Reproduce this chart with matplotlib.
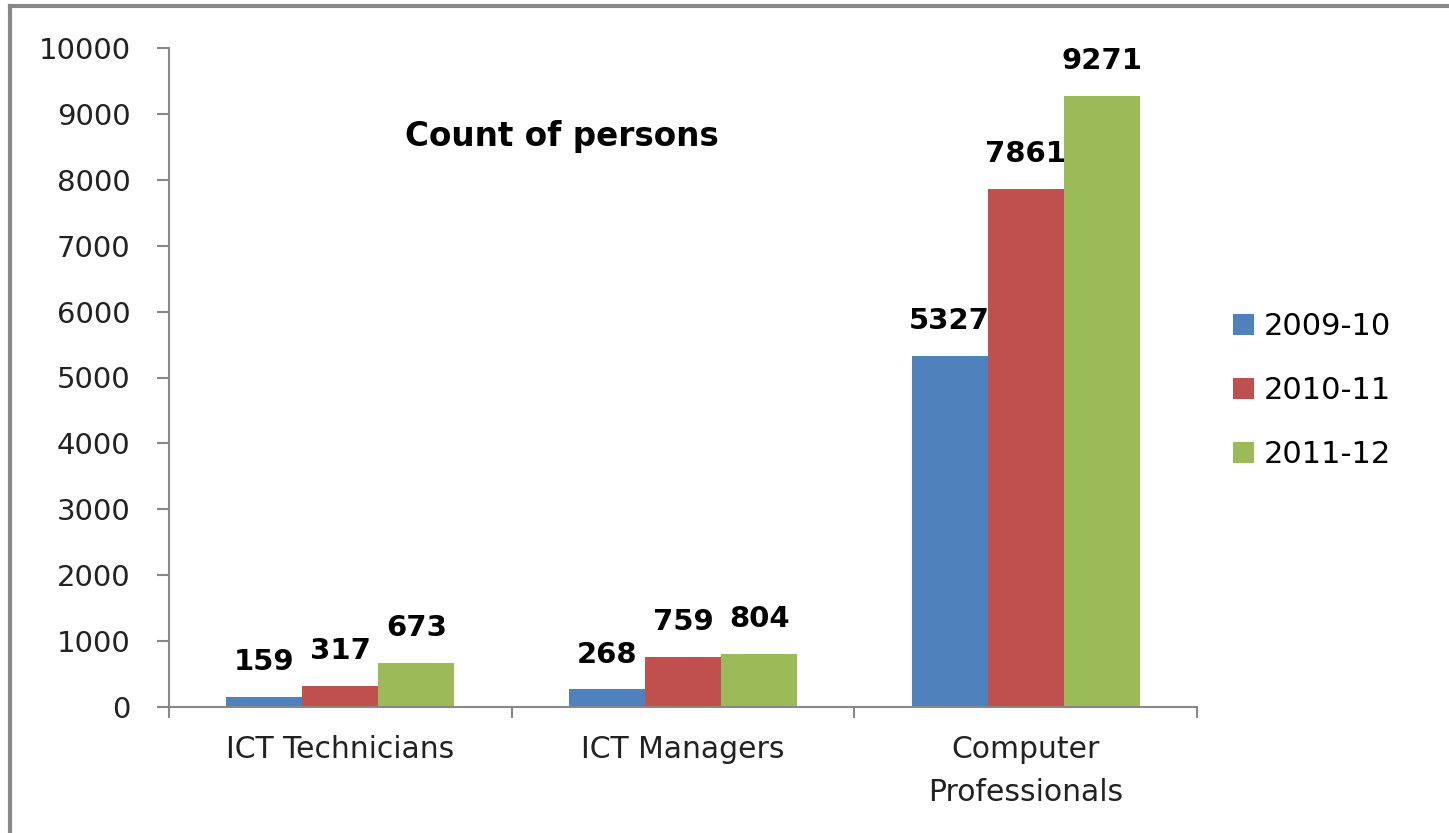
import numpy as np
import matplotlib
matplotlib.use("Agg")
import matplotlib.pyplot as plt

categories = ["ICT Technicians", "ICT Managers", "Computer\nProfessionals"]
years = ["2009-10", "2010-11", "2011-12"]
counts = {
    "2009-10": [159, 268, 5327],
    "2010-11": [317, 759, 7861],
    "2011-12": [673, 804, 9271],
}
colors = ["#4F81BD", "#C0504D", "#9BBB59"]

plt.rcParams['font.family'] = ['DejaVu Sans']

fig = plt.figure(figsize=(14.49, 8.33), dpi=100)
ax = fig.add_axes([169/1449, 1 - 707/833, (1197 - 169)/1449, (707 - 48)/833])

x = np.arange(len(categories))
w = 0.222
for i, yr in enumerate(years):
    pos = x + (i - 1) * w
    bars = ax.bar(pos, counts[yr], width=w, color=colors[i], label=yr)
    for b, v in zip(bars, counts[yr]):
        ax.annotate(str(v), (b.get_x() + b.get_width()/2, v), xytext=(0, 15),
                    textcoords="offset points", ha="center", va="bottom",
                    fontsize=21, fontweight="bold")

ax.set_xlim(-0.5, 2.5)
ax.set_ylim(0, 10000)
ax.set_yticks(np.arange(0, 10001, 1000))
ax.set_xticks(x)
ax.set_xticklabels(categories, fontsize=21.5, color="#222222", linespacing=1.62)
ax.set_xticks([-0.5, 0.5, 1.5, 2.5], minor=True)
ax.tick_params(axis="x", which="major", length=0, pad=20)
ax.tick_params(axis="x", which="minor", length=8, width=1.5, color="#888888")
ax.tick_params(axis="y", length=8.6, width=1.5, color="#888888", labelsize=21,
               labelcolor="#222222", pad=19)
for s in ["top", "right"]:
    ax.spines[s].set_visible(False)
for s in ["left", "bottom"]:
    ax.spines[s].set_color("#888888")
    ax.spines[s].set_linewidth(1.5)

ax.text(0.647, 8650, "Count of persons", ha="center", va="center",
        fontsize=23.5, fontweight="bold")

leg = ax.legend(loc="center left", bbox_to_anchor=(1.008, 0.48), frameon=False,
                fontsize=22, handlelength=0.7, handleheight=0.7,
                handletextpad=0.33, labelspacing=1.15)

# outer frame (top and left edges only visible)
fig.add_artist(plt.Line2D([10/1449, 10/1449], [0, 1 - 6/833], transform=fig.transFigure,
                          color="#888888", linewidth=3))
fig.add_artist(plt.Line2D([10/1449, 1], [1 - 6/833, 1 - 6/833], transform=fig.transFigure,
                          color="#888888", linewidth=3))

fig.savefig("out.png", dpi=100)
